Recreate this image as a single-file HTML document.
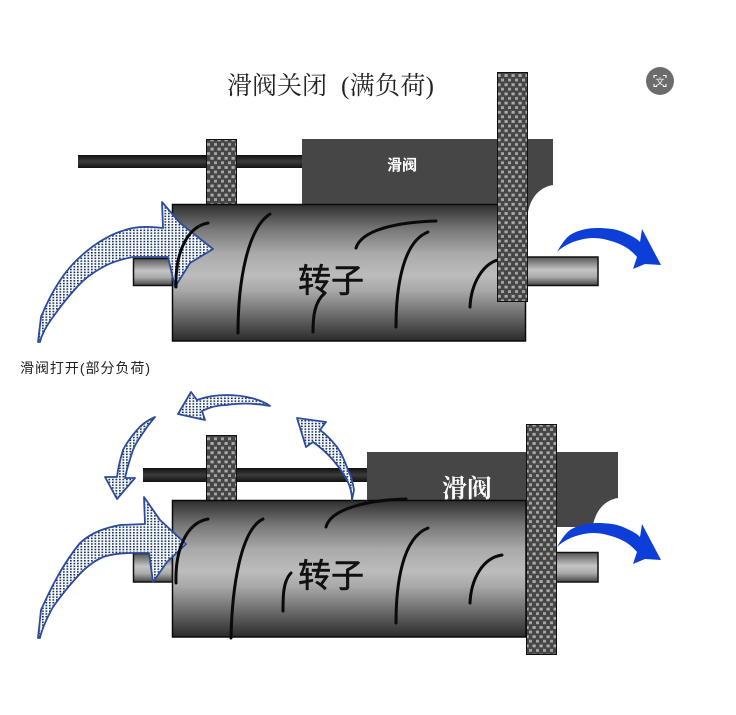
<!DOCTYPE html>
<html><head><meta charset="utf-8">
<style>html,body{margin:0;padding:0;background:#fff}svg{display:block}
.s{font-family:"Liberation Serif","Noto Serif CJK SC",serif}
.h{font-family:"Liberation Sans","Noto Sans CJK SC",sans-serif}
.c{fill:none;stroke:#0a0a0a;stroke-width:3;stroke-linecap:round}
.a{stroke:#2c4b9b;stroke-width:1.800;stroke-linejoin:round;fill:url(#dots)}
.b{fill:#0d3fd8;stroke:none}
</style></head><body>
<svg width="736" height="715" viewBox="0 0 736 715" xmlns="http://www.w3.org/2000/svg">
<defs>
<linearGradient id="rot" x1="0" y1="0" x2="0" y2="1">
<stop offset="0" stop-color="#2e2e2e"/><stop offset=".18" stop-color="#777"/><stop offset=".36" stop-color="#aaa"/><stop offset=".52" stop-color="#bcbcbc"/><stop offset=".63" stop-color="#a8a8a8"/><stop offset=".82" stop-color="#686868"/><stop offset="1" stop-color="#2a2a2a"/>
</linearGradient>
<linearGradient id="sh" x1="0" y1="0" x2="0" y2="1">
<stop offset="0" stop-color="#555"/><stop offset=".45" stop-color="#c4c4c4"/><stop offset=".7" stop-color="#aaa"/><stop offset="1" stop-color="#444"/>
</linearGradient>
<linearGradient id="rod" x1="0" y1="0" x2="0" y2="1">
<stop offset="0" stop-color="#111"/><stop offset=".5" stop-color="#3c3c3c"/><stop offset="1" stop-color="#111"/>
</linearGradient>
<pattern id="cq" width="7" height="9.200" patternUnits="userSpaceOnUse">
<rect width="7" height="9.200" fill="#464646"/>
<rect x="0.500" y="0.500" width="3.200" height="2.800" fill="#adadad"/><rect x="4" y="5" width="3" height="2.800" fill="#a5a5a5"/>
</pattern>
<pattern id="dots" width="3.500" height="2.800" patternUnits="userSpaceOnUse">
<rect width="3.500" height="2.800" fill="#f4f8fc"/><rect width="1.700" height="1.500" fill="#1c3050"/>
</pattern>
</defs>

<text class="s" x="227" y="94" font-size="25" fill="#222">滑阀关闭</text>
<text class="s" x="341" y="94" font-size="25" fill="#222" textLength="93">(满负荷)</text>
<text class="h" x="20" y="373" font-size="14" fill="#222" textLength="130">滑阀打开(部分负荷)</text>

<!-- TOP -->
<rect x="78" y="155" width="225" height="13" fill="url(#rod)"/>
<rect x="206.500" y="139.500" width="30" height="65" fill="url(#cq)" stroke="#111"/>
<path d="M302 139H553V185C540 187 531 197 528 212V204H302Z" fill="#464646"/>
<rect x="133.500" y="258.500" width="39" height="27" fill="url(#sh)" stroke="#111" stroke-width="1.500"/>
<rect x="527" y="257" width="71" height="28.500" fill="url(#sh)" stroke="#111" stroke-width="1.500"/>
<rect x="172.500" y="204.500" width="353" height="136.500" fill="url(#rot)" stroke="#0a0a0a" stroke-width="1.500"/>
<path class="a" d="M38 342L41 317C50 295 62 273 80 257C95 243 113 232 133 228C143 226 153 227 163 228L162 202L180 223L213 249L190 263L175 287L168 257L133 257C122 259 112 262 103 267C92 273 84 279 77 287C68 297 60 307 53 317C47 325 42 334 40 342Z"/>
<path class="c" d="M176 287C175 255 186 227 208 223"/>
<path class="c" d="M238 333C238 280 248 228 270 214"/>
<path class="c" d="M313 332C313 318 314 302 325 293"/>
<path class="c" d="M356 248C362 229 400 222 436 221"/>
<path class="c" d="M396 327C396 290 402 242 428 232"/>
<path class="c" d="M470 307C471 285 482 262 502 259"/>
<rect x="497.500" y="72.500" width="30" height="229" fill="url(#cq)" stroke="#111"/>
<text class="h" x="387" y="170" font-size="15" font-weight="700" fill="#fff">滑阀</text>
<text class="h" x="298" y="292" font-size="33" fill="#111" stroke="#111" stroke-width=".6">转子</text>
<path class="b" d="M557 252C562 243 566 238 570 235C578 230 588 228 597 228C607 228 616 229 623 232C630 235 636 238 640 242L642 229L661 265L645 264L633 269L637 257C631 250 625 246 617 243C609 240 601 238 593 238C586 238 579 240 573 242C566 245 561 248 557 252Z"/>

<!-- BOTTOM -->
<rect x="143" y="468" width="225" height="14" fill="url(#rod)"/>
<rect x="206.500" y="435.500" width="30" height="65" fill="url(#cq)" stroke="#111"/>
<path d="M367 452H618V498C605 500 596 510 593 525V527H557V500H367Z" fill="#464646"/>
<rect x="133.500" y="553.500" width="39" height="28.500" fill="url(#sh)" stroke="#111" stroke-width="1.500"/>
<rect x="556" y="552.500" width="42" height="29.500" fill="url(#sh)" stroke="#111" stroke-width="1.500"/>
<rect x="172.500" y="500.500" width="353.500" height="136.500" fill="url(#rot)" stroke="#0a0a0a" stroke-width="1.500"/>
<path class="a" d="M38 638L41 610C50 590 62 565 80 543C92 532 105 528 120 525L145 524L144 497L160 520L186 544L167 562L153 582L149 553L133 553C122 553 112 554 103 557C92 562 84 569 77 577C68 587 60 597 53 607C47 618 42 628 40 638Z"/>
<path class="c" d="M176 583C175 550 186 523 208 519"/>
<path class="c" d="M231 638C232 590 240 530 263 519"/>
<path class="c" d="M283 611C283 597 283 581 291 573"/>
<path class="c" d="M326 527C331 508 370 500 406 499"/>
<path class="c" d="M396 623C396 585 402 538 428 528"/>
<path class="c" d="M470 603C471 580 482 558 502 555"/>
<rect x="526.500" y="424.500" width="30" height="230" fill="url(#cq)" stroke="#111"/>
<text class="s" x="442" y="497" font-size="25" font-weight="700" fill="#fff">滑阀</text>
<text class="h" x="298" y="587" font-size="33" fill="#111" stroke="#111" stroke-width=".6">转子</text>
<path class="a" d="M270 406C262 400 245 395 227 395C215 395 205 397 197 400L191 392L178 414L205 420L202 411C210 407 218 405 227 405C238 403 255 403 270 406Z"/>
<path class="a" d="M155 417C146 421 141 425 137 430C130 438 126 444 123 450C120 460 118 468 117 477L105 477L117 499L135 478L125 478C127 468 130 459 133 450C136 442 141 436 145 430C148 425 152 421 155 417Z"/>
<path class="a" d="M352 500C352 492 350 486 347 480C343 472 338 466 333 460C327 453 320 447 313 442L306 447L297 418L326 422L320 430C327 435 332 441 337 447C342 454 345 462 348 470C351 476 353 483 354 490Z"/>
<path class="b" d="M557 547C562 538 566 533 570 530C578 525 588 523 597 523C607 523 616 524 623 527C630 530 636 533 640 537L642 524L661 560L645 559L633 564L637 552C631 545 625 541 617 538C609 535 601 533 593 533C586 533 579 535 573 537C566 540 561 543 557 547Z"/>

<!-- badge -->
<circle cx="660" cy="81" r="14" fill="#6c6c6c"/>
<path d="M654 78V75.500H657M663 75.500H666V78M666 84V86.500H663M657 86.500H654V84" fill="none" stroke="#fff" stroke-width="1.100"/>
<text class="h" x="660" y="85" font-size="9" text-anchor="middle" fill="#fff">文</text>
</svg>
</body></html>
